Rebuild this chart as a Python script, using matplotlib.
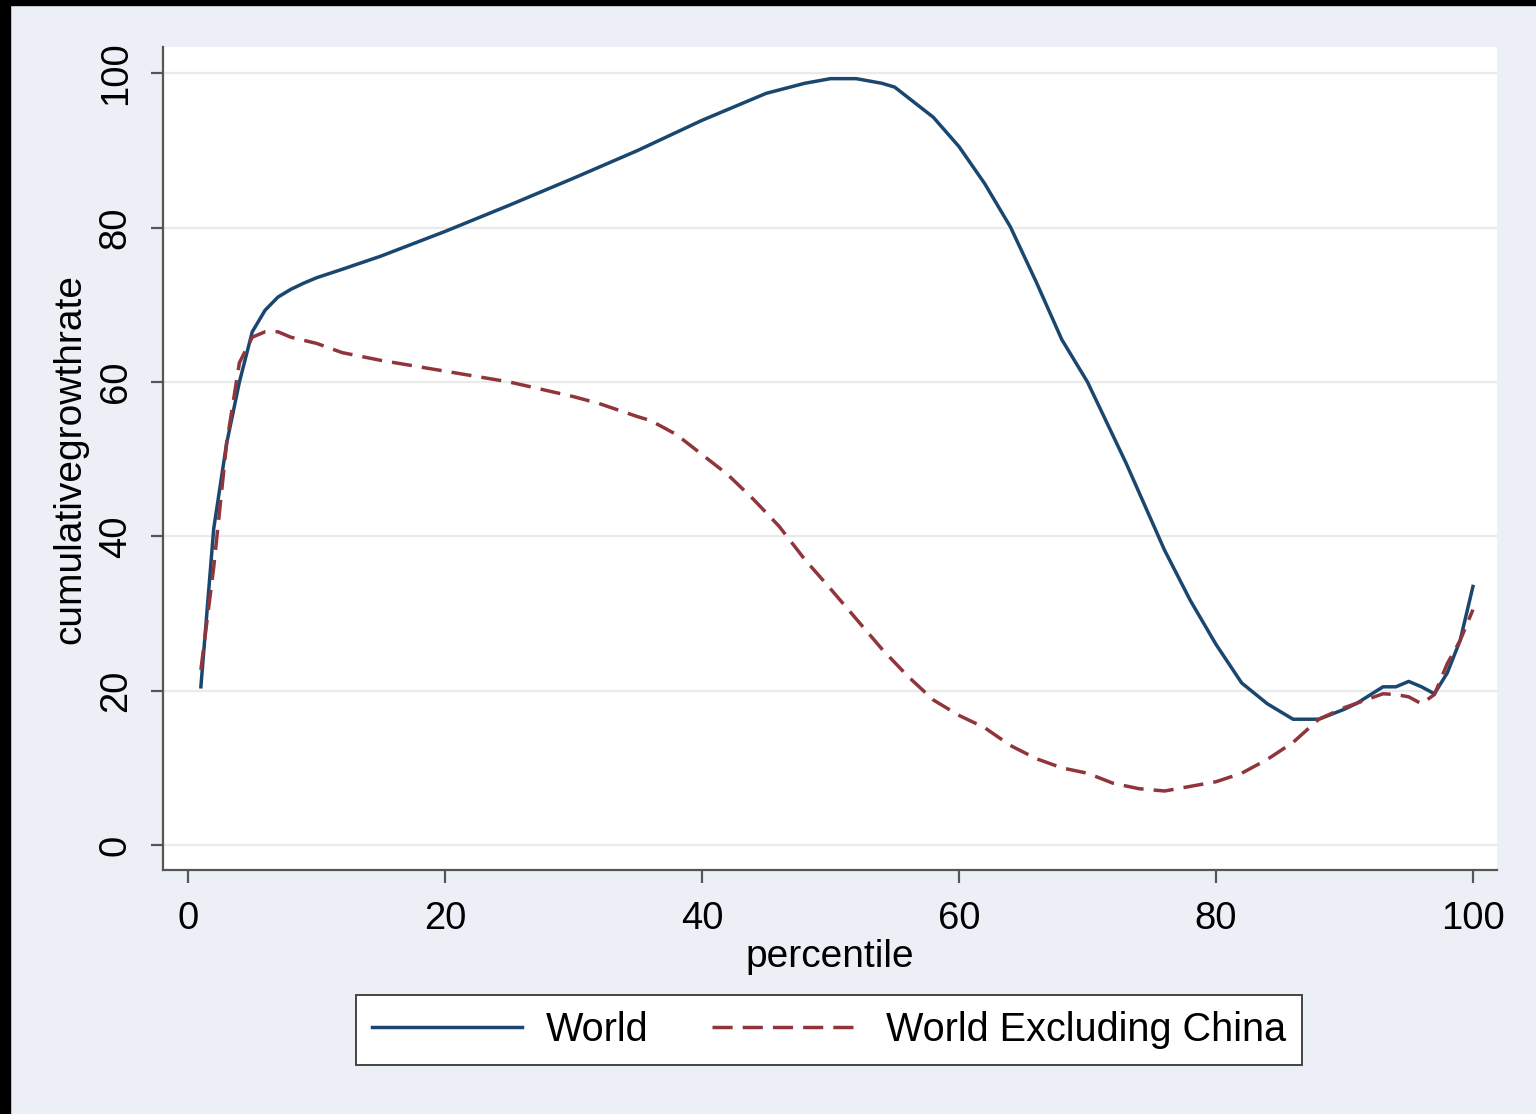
import matplotlib
matplotlib.use("Agg")
import matplotlib.pyplot as plt
import matplotlib.patches as patches

# percentile points
world_pct = [1, 2, 3, 4, 5, 6, 7, 8, 9, 10, 12, 15, 20, 25, 30, 35, 40, 45, 48,
             50, 52, 54, 55, 57, 58, 60, 62, 64, 66, 68, 70, 73, 76, 78, 80, 82,
             84, 86, 88, 90, 91, 93, 94, 95, 96, 97, 98, 99, 100]
world_val = [20.5, 41, 52, 60, 66.5, 69.3, 71, 72, 72.8, 73.5, 74.6, 76.3, 79.5,
             82.9, 86.4, 90, 93.9, 97.4, 98.7, 99.3, 99.3, 98.7, 98.2, 95.6, 94.3,
             90.5, 85.7, 80.1, 73, 65.5, 60, 49.5, 38.2, 31.7, 26, 21, 18.3, 16.3,
             16.3, 17.6, 18.4, 20.5, 20.5, 21.2, 20.5, 19.6, 22.3, 26.5, 33.5]

exch_pct = [1, 2, 3, 4, 5, 6, 7, 8, 10, 12, 15, 20, 25, 30, 32, 35, 36, 38, 40,
            42, 44, 46, 48, 50, 52, 54, 56, 58, 60, 62, 64, 66, 68, 70, 72, 74,
            76, 78, 80, 82, 84, 86, 88, 90, 92, 93, 94, 95, 96, 97, 98, 99, 100]
exch_val = [22.7, 36, 52, 62.5, 65.8, 66.5, 66.5, 65.8, 65, 63.8, 62.8, 61.4, 60,
            58.1, 57.2, 55.5, 55, 53.2, 50.6, 48, 44.8, 41.3, 37, 33.2, 29.3, 25.4,
            21.9, 18.8, 16.8, 15.2, 12.9, 11.2, 10, 9.3, 8, 7.3, 7, 7.6, 8.2, 9.3,
            11.1, 13.3, 16.3, 17.8, 19, 19.6, 19.5, 19.2, 18.3, 19.5, 23.5, 26.5, 30.5]

series_labels = ["World", "World Excluding China"]
x_ticks = [0, 20, 40, 60, 80, 100]
y_ticks = [0, 20, 40, 60, 80, 100]

plt.rcParams['font.family'] = ['Liberation Sans', 'DejaVu Sans']

bg = '#ECF0F6'
fig = plt.figure(figsize=(15.36, 11.14), dpi=100, facecolor=bg)
ax = fig.add_axes([0.1061, 0.219, 0.8685, 0.7388])
ax.set_facecolor('white')

ax.plot(world_pct, world_val, color='#1A476F', lw=2.5, label=series_labels[0])
ax.plot(exch_pct, exch_val, color='#90353B', lw=2.5, dashes=(5.8, 2.9),
        label=series_labels[1])

ax.set_xlim(-1.95, 101.87)
ax.set_ylim(-3.24, 103.4)
ax.set_xticks(x_ticks)
ax.set_yticks(y_ticks)
ax.grid(axis='y', color='#EAEAEA', lw=1.6)
ax.set_axisbelow(True)

for s in ['top', 'right']:
    ax.spines[s].set_visible(False)
for s in ['left', 'bottom']:
    ax.spines[s].set_color('#555555')
    ax.spines[s].set_linewidth(1.6)

ax.tick_params(axis='both', direction='out', length=9, width=1.6,
               color='#555555', labelsize=27.5)
ax.tick_params(axis='x', pad=13)
ax.tick_params(axis='y', pad=12)
for lab in ax.get_yticklabels():
    lab.set_rotation(90)
    lab.set_va('center')

ax.set_xlabel('percentile', fontsize=28, labelpad=2)
ax.set_ylabel('cumulativegrowthrate', fontsize=28, labelpad=7)

leg = fig.legend(loc='center', bbox_to_anchor=(0.5397, 0.0754), ncol=2,
                 fontsize=28.5, frameon=True, fancybox=False, edgecolor='#444444',
                 framealpha=1, facecolor='white',
                 handlelength=3.8, columnspacing=1.6, handletextpad=0.6,
                 borderpad=0.4)
leg.get_frame().set_linewidth(1.4)

# black strips at the image edge
fig.add_artist(patches.Rectangle((0, 0), 10 / 1536, 1, transform=fig.transFigure,
                                 color='black', zorder=10))
fig.add_artist(patches.Rectangle((0, 1 - 5 / 1114), 1, 5 / 1114,
                                 transform=fig.transFigure, color='black', zorder=10))

fig.savefig('out.png', dpi=100, facecolor=bg)
